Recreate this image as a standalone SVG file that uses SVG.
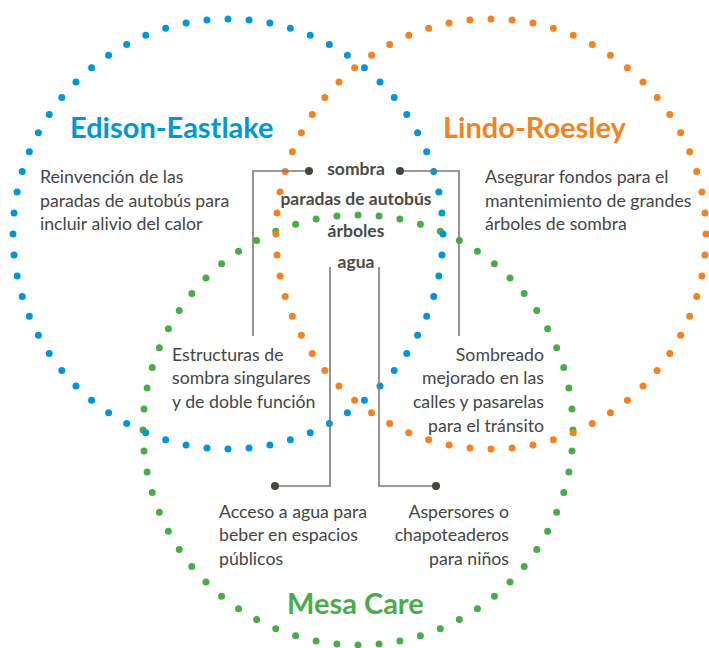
<svg xmlns="http://www.w3.org/2000/svg" width="709" height="648" viewBox="0 0 709 648">
<style>
.ring{fill:none;stroke-width:7;stroke-linecap:round;stroke-dasharray:0 1}
.title{font-family:Lato,"Open Sans",sans-serif;font-weight:bold;font-size:29px}
.body{font-family:Lato,"Open Sans",sans-serif;font-size:17.7px;fill:#454545}
.lbl{font-family:Lato,"Open Sans",sans-serif;font-weight:bold;font-size:17.5px;fill:#4b4b46;text-anchor:middle;stroke:#fff;stroke-width:2.5;paint-order:stroke}
.conn{fill:none;stroke:#7a7a76;stroke-width:1.6}
.pt{fill:#46463f}
</style>
<rect width="709" height="648" fill="#fff"/>
<g id="circle-mesa-care">
<circle class="ring" cx="358" cy="430" r="215" pathLength="64" stroke="#4aac48" transform="rotate(-90 358 430)"/>
</g>
<g id="circle-lindo-roesley">
<circle class="ring" cx="491" cy="234" r="215" pathLength="64" stroke="#f58220" transform="rotate(-90 491 234)"/>
</g>
<g id="circle-edison-eastlake">
<circle class="ring" cx="228" cy="234" r="215" pathLength="64" stroke="#0097d7" transform="rotate(-90 228 234)"/>
</g>
<g id="connectors">
<path class="conn" d="M309 171 H253 V336"/>
<path class="conn" d="M400 171 H459 V336"/>
<path class="conn" d="M330 267 V486 H275"/>
<path class="conn" d="M379 267 V486 H436"/>
<circle class="pt" cx="309" cy="171" r="4"/>
<circle class="pt" cx="400" cy="171" r="4"/>
<circle class="pt" cx="275" cy="486" r="4"/>
<circle class="pt" cx="436" cy="486" r="4"/>
</g>
<g id="edison-eastlake">
<text class="title" x="70" y="138" fill="#0097d7">Edison-Eastlake</text>
<text class="body" x="40" y="183">Reinvención de las</text>
<text class="body" x="40" y="207">paradas de autobús para</text>
<text class="body" x="40" y="230">incluir alivio del calor</text>
</g>
<g id="lindo-roesley">
<text class="title" x="443" y="138" fill="#f58220">Lindo-Roesley</text>
<text class="body" x="485" y="183">Asegurar fondos para el</text>
<text class="body" x="485" y="207">mantenimiento de grandes</text>
<text class="body" x="485" y="230">árboles de sombra</text>
</g>
<g id="mesa-care">
<text class="title" x="287" y="614" fill="#4aac48">Mesa Care</text>
</g>
<g id="shared-labels">
<text class="lbl" x="356" y="175">sombra</text>
<text class="lbl" x="356" y="205">paradas de autobús</text>
<text class="lbl" x="356" y="237">árboles</text>
<text class="lbl" x="356" y="268">agua</text>
</g>
<g id="estructuras">
<text class="body" x="172" y="361">Estructuras de</text>
<text class="body" x="172" y="384">sombra singulares</text>
<text class="body" x="172" y="408">y de doble función</text>
</g>
<g id="sombreado">
<text class="body" x="544" y="361" text-anchor="end">Sombreado</text>
<text class="body" x="544" y="384" text-anchor="end">mejorado en las</text>
<text class="body" x="544" y="408" text-anchor="end">calles y pasarelas</text>
<text class="body" x="544" y="432" text-anchor="end">para el tránsito</text>
</g>
<g id="acceso-agua">
<text class="body" x="219" y="518">Acceso a agua para</text>
<text class="body" x="219" y="541">beber en espacios</text>
<text class="body" x="219" y="565">públicos</text>
</g>
<g id="aspersores">
<text class="body" x="509" y="518" text-anchor="end">Aspersores o</text>
<text class="body" x="509" y="541" text-anchor="end">chapoteaderos</text>
<text class="body" x="509" y="565" text-anchor="end">para niños</text>
</g>
</svg>
